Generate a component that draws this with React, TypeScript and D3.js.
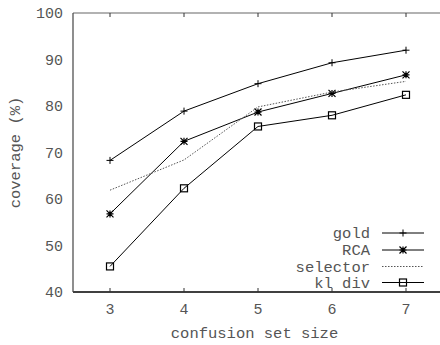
import React from 'react';
import * as d3 from 'd3';

const sizes = [3, 4, 5, 6, 7];
const gold = [68.3, 78.9, 84.8, 89.3, 92.0];
const rca = [56.8, 72.4, 78.7, 82.7, 86.7];
const selector = [61.9, 68.4, 79.8, 83.0, 85.3];
const klDiv = [45.5, 62.3, 75.6, 78.0, 82.4];
const yTicks = [40, 50, 60, 70, 80, 90, 100];

const series = [
  { name: 'gold', values: gold, marker: 'plus', dash: null },
  { name: 'RCA', values: rca, marker: 'star', dash: null },
  { name: 'selector', values: selector, marker: 'none', dash: '1.5,1.5' },
  { name: 'kl div', values: klDiv, marker: 'square', dash: null },
];

const W = 440;
const H = 345;
const margin = { top: 13, right: -3, bottom: 53, left: 73 };
const font = "'Liberation Mono', Cousine, 'Courier New', Courier, 'DejaVu Sans Mono', monospace";
const textColor = '#555';

const Marker = ({ type, x, y }) => {
  const s = 3.5;
  if (type === 'plus') {
    return (
      <path d={`M${x - s},${y}H${x + s}M${x},${y - s}V${y + s}`} stroke="#000" strokeWidth={1} />
    );
  }
  if (type === 'star') {
    return (
      <path
        d={`M${x - s},${y}H${x + s}M${x},${y - s}V${y + s}M${x - s},${y - s}L${x + s},${y + s}M${x - s},${y + s}L${x + s},${y - s}`}
        stroke="#000"
        strokeWidth={1.2}
      />
    );
  }
  if (type === 'square') {
    return <rect x={x - 3.5} y={y - 3.5} width={7} height={7} fill="none" stroke="#000" strokeWidth={1.2} />;
  }
  return null;
};

const App = () => {
  const x = d3.scaleLinear().domain([2.5, 7.5]).range([margin.left, W - margin.right]);
  const y = d3.scaleLinear().domain([40, 100]).range([H - margin.bottom, margin.top]);

  const line = d3
    .line<number>()
    .x((_, i) => x(sizes[i]))
    .y((d) => y(d));

  const bottom = H - margin.bottom;
  const legendX = 370;
  const legendY = [233, 250, 266.5, 282.5];
  const textStyle = { fontFamily: font };

  return (
    <svg width={W} height={H} style={{ position: 'absolute', left: 0, top: 0 }}>
      <rect width={W} height={H} fill="#fff" />

      {/* frame */}
      <line x1={margin.left} x2={W} y1={margin.top} y2={margin.top} stroke="#666" strokeWidth={1.2} />
      <line x1={margin.left} x2={W} y1={bottom} y2={bottom} stroke="#000" strokeWidth={1.3} />
      <line x1={margin.left} x2={margin.left} y1={margin.top} y2={bottom} stroke="#444" strokeWidth={1.2} />

      {/* x ticks */}
      {sizes.map((s) => (
        <g key={s}>
          <line x1={x(s)} x2={x(s)} y1={bottom} y2={bottom - 4} stroke="#333" />
          <line x1={x(s)} x2={x(s)} y1={margin.top} y2={margin.top + 4} stroke="#333" />
          <text x={x(s)} y={bottom + 22} textAnchor="middle" style={textStyle} fontSize={15} fill={textColor}>
            {s}
          </text>
        </g>
      ))}

      {/* y ticks */}
      {yTicks.map((t) => (
        <text key={t} x={63} y={y(t) + 5} textAnchor="end" style={textStyle} fontSize={15} fill={textColor}>
          {t}
        </text>
      ))}

      {/* axis titles */}
      <text
        x={(margin.left + W) / 2 - 2}
        y={338}
        textAnchor="middle"
        style={textStyle}
        fontSize={15.5}
        fill={textColor}
      >
        confusion set size
      </text>
      <text
        transform={`translate(20,${(margin.top + bottom) / 2}) rotate(-90)`}
        textAnchor="middle"
        style={textStyle}
        fontSize={15.5}
        fill={textColor}
      >
        coverage (%)
      </text>

      {/* series */}
      {series.map((s) => (
        <g key={s.name}>
          <path
            d={line(s.values) || ''}
            fill="none"
            stroke={s.dash ? '#555' : '#000'}
            strokeWidth={1}
            strokeDasharray={s.dash || undefined}
          />
          {s.values.map((v, i) => (
            <Marker key={i} type={s.marker} x={x(sizes[i])} y={y(v)} />
          ))}
        </g>
      ))}

      {/* legend */}
      {series.map((s, i) => (
        <g key={s.name}>
          <text x={legendX} y={legendY[i] + 5} textAnchor="end" style={textStyle} fontSize={15.5} fill={textColor}>
            {s.name}
          </text>
          <line
            x1={382}
            x2={424}
            y1={legendY[i]}
            y2={legendY[i]}
            stroke={s.dash ? '#555' : '#000'}
            strokeWidth={1}
            strokeDasharray={s.dash || undefined}
          />
          <Marker type={s.marker} x={403} y={legendY[i]} />
        </g>
      ))}
    </svg>
  );
};

export default App;
